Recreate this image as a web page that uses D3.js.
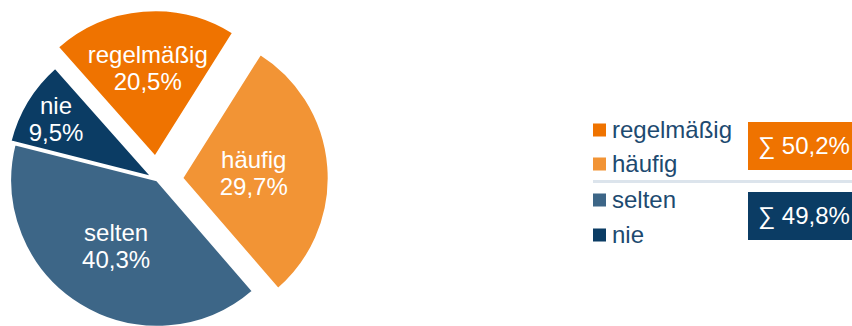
<!DOCTYPE html>
<html>
<head>
<meta charset="utf-8">
<script src="https://cdn.jsdelivr.net/npm/d3@7"></script>
<style>
  html, body { margin: 0; padding: 0; background: #ffffff; }
  svg { display: block; font-family: "Liberation Sans", Arial, sans-serif; }
</style>
</head>
<body>
<svg id="chart" width="852" height="326"></svg>
<script>
// Frequency categories and their shares (percent)
const categories = ["regelmäßig", "häufig", "selten", "nie"];
const shares = [20.5, 29.7, 40.3, 9.5];
const colors = ["#EF7300", "#F29435", "#3D6687", "#0B3C64"];
// Groups summed in the boxes next to the legend
const groups = [
  { members: ["regelmäßig", "häufig"], color: "#EF7300" },
  { members: ["selten", "nie"], color: "#0B3C64" }
];

// Layout settings
const cx = 157, cy = 180, radius = 147;
const explode = { "regelmäßig": 23, "häufig": 25, "selten": 0, "nie": 5 };
const labelRadius = { "regelmäßig": 0.61, "häufig": 0.49, "selten": 0.53, "nie": 0.77 };
const fontSize = 24;

const svg = d3.select("#chart");
const data = categories.map((c, i) => ({ name: c, value: shares[i], color: colors[i] }));

const pie = d3.pie()
  .value(d => d.value)
  .sort(null)
  .startAngle(-41.6 * Math.PI / 180)
  .endAngle((360 - 41.6) * Math.PI / 180);

const arc = d3.arc().innerRadius(0).outerRadius(radius);
const arcs = pie(data);

const fmt = v => d3.format(".1f")(v).replace(".", ",") + "%";

const g = svg.append("g").attr("transform", `translate(${cx},${cy})`);

const slice = g.selectAll("g.slice")
  .data(arcs)
  .join("g")
  .attr("class", "slice")
  .attr("transform", d => {
    const m = (d.startAngle + d.endAngle) / 2;
    const e = explode[d.data.name];
    return `translate(${Math.sin(m) * e},${-Math.cos(m) * e})`;
  });

slice.append("path")
  .attr("d", arc)
  .attr("fill", d => d.data.color)
  .attr("stroke", "#ffffff")
  .attr("stroke-width", 2.5)
  .attr("stroke-linejoin", "round");

const lbl = slice.append("text")
  .attr("text-anchor", "middle")
  .attr("fill", "#ffffff")
  .attr("font-size", fontSize)
  .attr("transform", d => {
    const m = (d.startAngle + d.endAngle) / 2;
    const r = radius * labelRadius[d.data.name];
    return `translate(${Math.sin(m) * r},${-Math.cos(m) * r})`;
  });
lbl.append("tspan").attr("x", 0).attr("y", -5).text(d => d.data.name);
lbl.append("tspan").attr("x", 0).attr("y", 22).text(d => fmt(d.data.value));

// Legend
const legendX = 593, legendRows = [130, 164, 200, 235];
const legend = svg.append("g");
data.forEach((d, i) => {
  legend.append("rect")
    .attr("x", legendX).attr("y", legendRows[i] - 6.5)
    .attr("width", 13).attr("height", 13)
    .attr("fill", d.color);
  legend.append("text")
    .attr("x", legendX + 19).attr("y", legendRows[i] + 8)
    .attr("font-size", 24)
    .attr("fill", "#1D4A70")
    .text(d.name);
});

// Separator between the two groups
svg.append("line")
  .attr("x1", 593).attr("x2", 852)
  .attr("y1", 181.5).attr("y2", 181.5)
  .attr("stroke", "#DCE4EC").attr("stroke-width", 3);

// Group sum boxes
const boxes = [{ y: 122, h: 48 }, { y: 192, h: 48 }];
groups.forEach((grp, i) => {
  const total = d3.sum(grp.members, m => shares[categories.indexOf(m)]);
  svg.append("rect")
    .attr("x", 748).attr("y", boxes[i].y)
    .attr("width", 852 - 748).attr("height", boxes[i].h)
    .attr("fill", grp.color);
  svg.append("text")
    .attr("x", 758).attr("y", boxes[i].y + 32)
    .attr("font-size", 24)
    .attr("fill", "#ffffff")
    .text("∑ " + fmt(total));
});
</script>
</body>
</html>
